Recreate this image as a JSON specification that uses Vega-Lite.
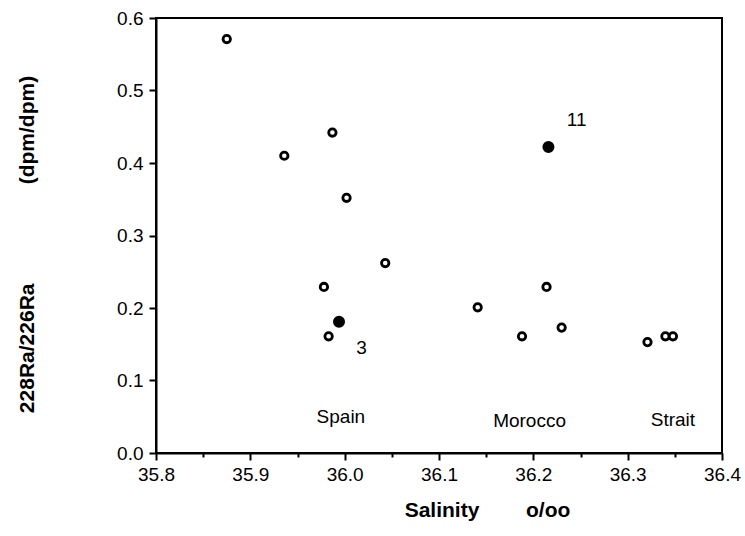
{
  "$schema": "https://vega.github.io/schema/vega-lite/v6.json",
  "width": 566,
  "height": 435,
  "autosize": "none",
  "padding": {"left": 156, "top": 18, "right": 23, "bottom": 83},
  "background": "white",
  "config": {
    "font": "Liberation Sans",
    "view": {"stroke": "black", "strokeWidth": 2},
    "axis": {
      "domainColor": "black", "domainWidth": 2, "tickColor": "black", "tickWidth": 2,
      "labelColor": "black", "labelFontSize": 19, "labelFont": "Liberation Sans",
      "titleColor": "black", "titleFont": "Liberation Sans", "titleFontWeight": "bold", "titleFontSize": 21,
      "grid": false
    }
  },
  "datasets": {
    "points": [
      {"salinity": 35.875, "ratio": 0.571, "kind": "open"},
      {"salinity": 35.936, "ratio": 0.410, "kind": "open"},
      {"salinity": 35.987, "ratio": 0.442, "kind": "open"},
      {"salinity": 36.002, "ratio": 0.352, "kind": "open"},
      {"salinity": 36.043, "ratio": 0.262, "kind": "open"},
      {"salinity": 35.978, "ratio": 0.229, "kind": "open"},
      {"salinity": 35.994, "ratio": 0.181, "kind": "filled"},
      {"salinity": 35.983, "ratio": 0.161, "kind": "open"},
      {"salinity": 36.216, "ratio": 0.422, "kind": "filled"},
      {"salinity": 36.214, "ratio": 0.229, "kind": "open"},
      {"salinity": 36.141, "ratio": 0.201, "kind": "open"},
      {"salinity": 36.188, "ratio": 0.161, "kind": "open"},
      {"salinity": 36.230, "ratio": 0.173, "kind": "open"},
      {"salinity": 36.321, "ratio": 0.153, "kind": "open"},
      {"salinity": 36.340, "ratio": 0.161, "kind": "open"},
      {"salinity": 36.348, "ratio": 0.161, "kind": "open"}
    ],
    "labels": [
      {"salinity": 36.018, "ratio": 0.145, "label": "3"},
      {"salinity": 36.246, "ratio": 0.459, "label": "11"},
      {"salinity": 35.996, "ratio": 0.050, "label": "Spain"},
      {"salinity": 36.196, "ratio": 0.044, "label": "Morocco"},
      {"salinity": 36.348, "ratio": 0.045, "label": "Strait"}
    ]
  },
  "layer": [
    {
      "data": {"name": "points"},
      "mark": {"type": "point", "shape": "circle", "filled": false, "stroke": "black", "strokeWidth": 2.8, "opacity": 1},
      "encoding": {
        "x": {
          "field": "salinity", "type": "quantitative",
          "scale": {"domain": [35.8, 36.4], "nice": false, "zero": false},
          "axis": {
            "values": [35.8, 35.85, 35.9, 35.95, 36.0, 36.05, 36.1, 36.15, 36.2, 36.25, 36.3, 36.35, 36.4],
            "format": ".1f",
            "labelExpr": "round(datum.value*100) % 10 == 0 ? datum.label : ''",
            "tickSize": {"condition": {"test": "round(datum.value*100) % 10 == 0", "value": 7}, "value": 4},
            "labelPadding": 5,
            "labelFlush": false,
            "labelOverlap": false,
            "title": "Salinity\u00a0\u00a0\u00a0\u00a0\u00a0\u00a0\u00a0\u00a0o/oo",
            "titleX": 331, "titleY": 57, "titleBaseline": "middle", "titleAlign": "center"
          }
        },
        "y": {
          "field": "ratio", "type": "quantitative",
          "scale": {"domain": [0, 0.6], "nice": false},
          "axis": {
            "values": [0, 0.05, 0.1, 0.15, 0.2, 0.25, 0.3, 0.35, 0.4, 0.45, 0.5, 0.55, 0.6],
            "format": ".1f",
            "labelExpr": "round(datum.value*100) % 10 == 0 ? datum.label : ''",
            "tickSize": {"condition": {"test": "round(datum.value*100) % 10 == 0", "value": 7}, "value": 4},
            "labelPadding": 6,
            "labelFlush": false,
            "labelOverlap": false,
            "title": "228Ra/226Ra\u00a0\u00a0\u00a0\u00a0\u00a0\u00a0\u00a0\u00a0\u00a0\u00a0\u00a0\u00a0\u00a0\u00a0\u00a0\u00a0\u00a0(dpm/dpm)",
            "titleX": -129, "titleY": 226, "titleAngle": -90, "titleBaseline": "middle", "titleAlign": "center"
          }
        },
        "fill": {
          "field": "kind", "type": "nominal",
          "scale": {"domain": ["open", "filled"], "range": ["white", "black"]},
          "legend": null
        },
        "size": {
          "field": "kind", "type": "nominal",
          "scale": {"domain": ["open", "filled"], "range": [55, 85]},
          "legend": null
        }
      }
    },
    {
      "data": {"name": "labels"},
      "mark": {"type": "text", "font": "Liberation Sans", "fontSize": 19, "color": "black", "align": "center", "baseline": "middle"},
      "encoding": {
        "x": {"field": "salinity", "type": "quantitative"},
        "y": {"field": "ratio", "type": "quantitative"},
        "text": {"field": "label"}
      }
    }
  ]
}
